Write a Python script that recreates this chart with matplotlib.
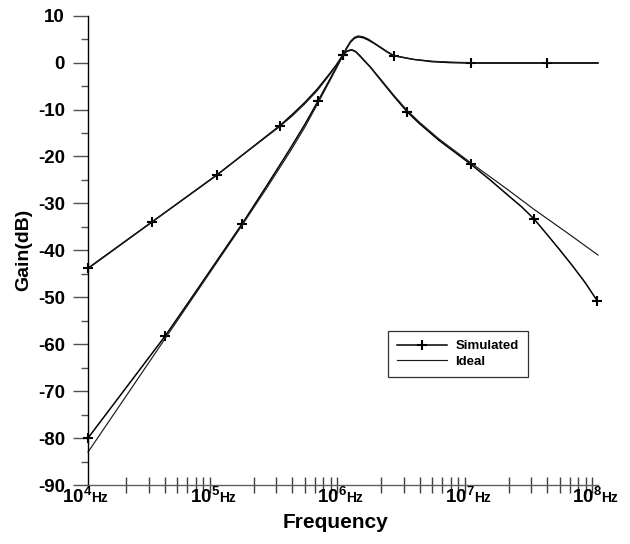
import numpy as np
import matplotlib
matplotlib.use("Agg")
import matplotlib.pyplot as plt
from matplotlib.ticker import FixedLocator, NullFormatter, NullLocator

plt.rcParams["font.family"] = ["Liberation Sans", "DejaVu Sans"]
plt.rcParams["font.weight"] = "bold"
plt.rcParams["axes.unicode_minus"] = False
plt.rcParams["mathtext.fontset"] = "custom"
plt.rcParams["mathtext.rm"] = "Liberation Sans:bold"
plt.rcParams["mathtext.bf"] = "Liberation Sans:bold"

# Frequencies as log10(f / Hz), gains in dB
hp_sim_logf = [4.0, 4.504, 5.009, 5.506, 5.6, 5.7, 5.8, 5.9, 5.95, 5.998, 6.03, 6.06,
               6.09, 6.12, 6.16, 6.2, 6.25, 6.3, 6.35, 6.4, 6.55, 6.7, 6.85, 7.0, 7.602, 8.0]
hp_sim_gain = [-43.8, -33.9, -24.0, -13.4, -11.1, -8.5, -5.6, -2.2, -0.4, 1.6, 3.1, 4.4,
               5.2, 5.5, 5.3, 4.8, 4.0, 3.1, 2.2, 1.47, 0.7, 0.2, 0.0, -0.1, -0.1, -0.1]
hp_sim_marks = [0, 1, 2, 3, 9, 19, 23, 24]

hp_ideal_logf = [4.0, 4.5, 5.0, 5.5, 5.6, 5.7, 5.8, 5.9, 5.95, 6.0, 6.03, 6.06,
                 6.09, 6.12, 6.16, 6.2, 6.25, 6.3, 6.35, 6.4, 6.55, 6.7, 6.85, 7.0, 7.6, 8.0]
hp_ideal_gain = [-43.9, -34.0, -24.1, -13.7, -11.4, -8.8, -5.9, -2.4, -0.5, 1.7, 3.3, 4.6,
                 5.4, 5.7, 5.5, 5.0, 4.1, 3.2, 2.3, 1.5, 0.7, 0.3, 0.1, 0.0, 0.0, 0.0]

bp_sim_logf = [4.0, 4.604, 4.8, 5.21, 5.4, 5.584, 5.7, 5.806, 5.9, 5.95, 5.998, 6.03,
               6.068, 6.1, 6.133, 6.17, 6.212, 6.26, 6.316, 6.4, 6.504, 6.6, 6.75,
               7.0, 7.15, 7.3, 7.4, 7.498, 7.6, 7.7, 7.8, 7.9, 7.995]
bp_sim_gain = [-80.0, -58.3, -50.6, -34.3, -26.3, -18.4, -13.2, -8.1, -3.4, -0.9, 1.6, 2.4,
               2.7, 2.3, 1.4, 0.3, -0.9, -2.5, -4.4, -7.2, -10.5, -13.0, -16.5,
               -21.6, -24.9, -28.4, -30.7, -33.3, -36.6, -39.9, -43.3, -46.9, -50.8]
bp_sim_marks = [0, 1, 3, 7, 10, 20, 23, 27, 32]

bp_ideal_logf = [4.0, 4.3, 4.6, 5.0, 5.2, 5.4, 5.584, 5.7, 5.806, 5.9, 5.95, 6.0, 6.03,
                 6.068, 6.1, 6.133, 6.17, 6.212, 6.26, 6.316, 6.4, 6.504, 6.6, 6.75,
                 7.0, 7.284, 7.5, 7.75, 8.0]
bp_ideal_gain = [-83.0, -71.0, -59.0, -43.0, -35.0, -26.8, -19.0, -13.8, -8.5, -3.7, -1.1, 1.5, 2.5,
                 2.8, 2.4, 1.5, 0.4, -0.8, -2.4, -4.2, -7.0, -10.2, -12.7, -16.2,
                 -21.3, -26.9, -31.3, -36.1, -41.0]

decades = [4, 5, 6, 7, 8]
y_major = list(range(-90, 11, 10))
y_minor = list(range(-85, 10, 10))

W, H = 630, 544
fig = plt.figure(figsize=(W / 100, H / 100), dpi=100)
ax = fig.add_axes([88 / W, (H - 485) / H, (598 - 88) / W, (485 - 15.7) / H])

sim_kw = dict(color="black", lw=1.1, marker="+", ms=7.5, mew=1.5, clip_on=False)
ideal_kw = dict(color="#1a1a1a", lw=0.85, clip_on=False)

l_sim, = ax.plot(10 ** np.array(hp_sim_logf), hp_sim_gain, markevery=hp_sim_marks, **sim_kw)
ax.plot(10 ** np.array(bp_sim_logf), bp_sim_gain, markevery=bp_sim_marks, **sim_kw)
l_ideal, = ax.plot(10 ** np.array(hp_ideal_logf), hp_ideal_gain, **ideal_kw)
ax.plot(10 ** np.array(bp_ideal_logf), bp_ideal_gain, **ideal_kw)

ax.set_xscale("log")
ax.set_xlim(10 ** decades[0], 10 ** decades[-1])
ax.set_ylim(-90, 10)

for s in ("top", "right"):
    ax.spines[s].set_visible(False)
ax.spines["left"].set_color("black")
ax.spines["left"].set_linewidth(1.0)
ax.spines["bottom"].set_color("#606060")
ax.spines["bottom"].set_linewidth(1.0)

# x axis: only 2..9 minor ticks crossing the axis line
ax.xaxis.set_major_locator(NullLocator())
minor_x = [m * 10 ** d for d in decades[:-1] for m in range(2, 10)]
ax.xaxis.set_minor_locator(FixedLocator(minor_x))
ax.xaxis.set_minor_formatter(NullFormatter())
ax.tick_params(axis="x", which="minor", direction="inout", length=12, width=1.0, color="#404040")

# y axis
ax.yaxis.set_major_locator(FixedLocator(y_major))
ax.yaxis.set_minor_locator(FixedLocator(y_minor))
ax.tick_params(axis="y", which="major", direction="out", length=10.8, width=1.0,
               color="#505050", pad=5.8, labelsize=13.5)
ax.tick_params(axis="y", which="minor", direction="out", length=5.3, width=1.0, color="#505050")
for t in ax.get_yticklabels():
    t.set_fontweight("bold")

# decade labels: 10^n with a small "Hz"
for d in decades:
    ax.annotate(r"$\mathbf{10^{%d}}$" % d, xy=(10 ** d, 0), xycoords=("data", "axes fraction"),
                xytext=(3.0, -13.0), textcoords="offset points", ha="right", va="baseline",
                fontsize=13.5, annotation_clip=False)
    ax.annotate("Hz", xy=(10 ** d, 0), xycoords=("data", "axes fraction"),
                xytext=(2.6, -12.0), textcoords="offset points", ha="left", va="baseline",
                fontsize=10, fontweight="bold", annotation_clip=False)

fig.text(335 / W, 1 - 522 / H, "Frequency", ha="center", va="center",
         fontsize=15, fontweight="bold")
fig.text(24 / W, 1 - 250 / H, "Gain(dB)", ha="center", va="center", rotation=90,
         fontsize=14, fontweight="bold")

leg = ax.legend([l_sim, l_ideal], ["Simulated", "Ideal"], loc="upper left",
                bbox_to_anchor=(388 / W, 1 - 331 / H), bbox_transform=fig.transFigure,
                borderaxespad=0, fontsize=9.5, handlelength=3.8, handletextpad=0.6,
                labelspacing=0.25, borderpad=0.7, fancybox=False, frameon=True,
                numpoints=1, markerscale=1.0)
leg.get_frame().set_edgecolor("black")
leg.get_frame().set_linewidth(0.9)
for t in leg.get_texts():
    t.set_fontweight("bold")

fig.savefig("out.png", dpi=100)
